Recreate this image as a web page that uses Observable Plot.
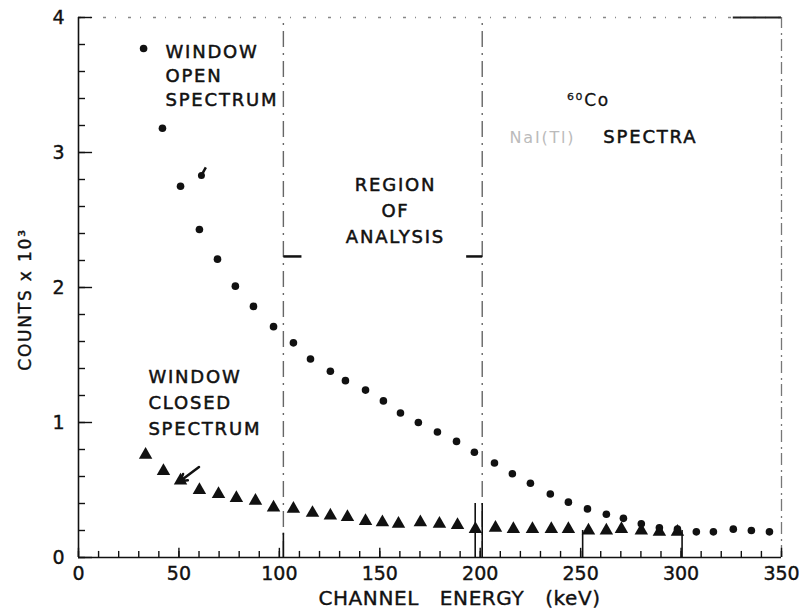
<!DOCTYPE html>
<html><head><meta charset="utf-8">
<script src="https://cdn.jsdelivr.net/npm/d3@7"></script>
<script src="https://cdn.jsdelivr.net/npm/@observablehq/plot@0.6"></script>
<style>body{margin:0;background:#fff}</style>
</head><body><div id="chart"></div>
<script>
// Window-open spectrum (circles): energy (keV), counts x 10^3
const openX = [32.4, 41.8, 50.8, 60.2, 69.2, 78.1, 87.1, 97.1, 107.0, 115.5, 125.4, 132.9, 142.9, 151.8, 160.3, 169.2, 178.7, 188.2, 197.1, 207.1, 216.0, 225.0, 234.9, 243.9, 253.4, 262.8, 271.3, 280.2, 289.2, 298.2, 307.6, 316.1, 326.0, 335.0, 344.0];
const openY = [3.77, 3.18, 2.75, 2.43, 2.21, 2.01, 1.86, 1.71, 1.59, 1.47, 1.38, 1.31, 1.24, 1.16, 1.07, 1.00, 0.93, 0.86, 0.78, 0.70, 0.62, 0.55, 0.47, 0.41, 0.36, 0.32, 0.29, 0.25, 0.22, 0.21, 0.19, 0.19, 0.21, 0.20, 0.19];
// marked point (with tail) in open spectrum
const markX = [61.2];
const markY = [2.83];
// Window-closed spectrum (triangles)
const closedX = [33.4, 42.3, 50.8, 60.2, 69.7, 78.6, 88.1, 97.1, 107.0, 116.5, 125.4, 133.9, 142.9, 151.3, 159.3, 170.2, 179.7, 188.7, 197.6, 207.6, 216.5, 226.0, 235.4, 243.9, 253.9, 262.8, 270.3, 280.2, 289.2, 298.2];
const closedY = [0.76, 0.64, 0.57, 0.50, 0.47, 0.44, 0.42, 0.37, 0.36, 0.33, 0.31, 0.30, 0.27, 0.26, 0.25, 0.26, 0.25, 0.24, 0.21, 0.22, 0.21, 0.21, 0.21, 0.21, 0.20, 0.20, 0.21, 0.20, 0.19, 0.19];
// Region of analysis boundaries (keV)
const regionX = [102, 201];
// Axis ticks
const xTickLabels = [0, 50, 100, 150, 200, 250, 300, 350];
const yTickLabels = [0, 1, 2, 3, 4];
const xMinorTicks = d3.range(0, 351, 10);
const yMinorTicks = d3.range(0, 4.001, 0.2);
// Tall tick marks on the energy axis
const longTickX = [102, 197.5, 201, 251, 300.5];
const longTickTop = [0.18, 0.4, 0.4, 0.2, 0.2];

const font = "DejaVu Sans";
const ink = "#111";
const open = openX.map((x, i) => ({x, y: openY[i]}));
const closed = closedX.map((x, i) => ({x, y: closedY[i]}));
const marked = markX.map((x, i) => ({x, y: markY[i]}));
const longTicks = longTickX.map((x, i) => ({x, y2: longTickTop[i]}));
const note = {fill: ink, stroke: ink, strokeWidth: 0.5, fontSize: 18};

const chart = Plot.plot({
  width: 801,
  height: 615,
  marginLeft: 78,
  marginRight: 20,
  marginTop: 17,
  marginBottom: 58,
  style: {fontFamily: font, color: ink, background: "#fff"},
  x: {domain: [0, 350], axis: null},
  y: {domain: [0, 4], axis: null},
  marks: [
    // frame: top dashed, right dashed
    Plot.ruleY([4], {x1: 0, x2: 350, stroke: "#888", strokeDasharray: "3,9,1,12", strokeWidth: 1.5}),
    Plot.ruleY([4], {x1: 326, x2: 350, stroke: "#222", strokeWidth: 1.8}),
    Plot.ruleX([350], {y1: 0, y2: 4, stroke: "#777", strokeDasharray: "12,4,2,5", strokeWidth: 1.3}),
    // region of analysis lines
    Plot.ruleX(regionX, {y1: 0, y2: 4, stroke: "#666", strokeDasharray: "16,6,2,6", strokeWidth: 1.4}),
    Plot.link(regionX, {x1: (d, i) => i === 0 ? d : d - 8, x2: (d, i) => i === 0 ? d + 9 : d, y1: 2.23, y2: 2.23, stroke: ink, strokeWidth: 2.5}),
    // axes lines
    Plot.ruleX([0], {y1: 0, y2: 4, stroke: ink, strokeWidth: 1.6}),
    Plot.ruleY([0], {x1: 0, x2: 350, stroke: ink, strokeWidth: 1.6}),
    // ticks pointing into the plot
    Plot.ruleY(yMinorTicks, {x1: 0, x2: 3.5, stroke: ink, strokeWidth: 1.4}),
    Plot.ruleY(yTickLabels, {x1: 0, x2: 7, stroke: ink, strokeWidth: 1.4}),
    Plot.ruleX(xMinorTicks, {y1: 0, y2: 0.045, stroke: ink, strokeWidth: 1.4}),
    Plot.ruleX(xTickLabels, {y1: 0, y2: 0.068, stroke: ink, strokeWidth: 1.4}),
    Plot.ruleX(longTicks, {x: "x", y1: 0, y2: "y2", stroke: ink, strokeWidth: 1.6}),
    // tick labels
    Plot.axisY(yTickLabels, {anchor: "left", tickSize: 0, tickPadding: 14, fontSize: 19, tickFormat: d => String(d), label: null}),
    Plot.axisX(xTickLabels, {anchor: "bottom", tickSize: 0, tickPadding: 9, fontSize: 19, tickFormat: d => String(d), label: null}),
    // data
    Plot.dot(closed, {x: "x", y: "y", symbol: "triangle", r: 5, fill: ink, stroke: "none"}),
    Plot.dot(open, {x: "x", y: "y", r: 3.8, fill: ink, stroke: "none"}),
    Plot.dot(marked, {x: "x", y: "y", r: 3.5, fill: ink}),
    Plot.link(marked, {x1: "x", y1: "y", x2: d => d.x + 2.2, y2: d => d.y + 0.06, stroke: ink, strokeWidth: 2.5}),
    // arrow to closed spectrum
    Plot.arrow([{x1: 60, y1: 0.67, x2: 50.5, y2: 0.565}], {x1: "x1", y1: "y1", x2: "x2", y2: "y2", stroke: ink, strokeWidth: 2.5, headLength: 7}),
    // annotations
    Plot.text(["WINDOW\nOPEN\nSPECTRUM"], {...note, x: 43.3, y: 3.58, textAnchor: "start", lineAnchor: "middle", lineHeight: 1.33}),
    Plot.text(["WINDOW\nCLOSED\nSPECTRUM"], {...note, x: 34.8, y: 1.163, textAnchor: "start", lineAnchor: "middle", lineHeight: 1.44}),
    Plot.text(["REGION\nOF\nANALYSIS"], {...note, x: 157.8, y: 2.585, textAnchor: "middle", lineAnchor: "middle", lineHeight: 1.47}),
    Plot.text(["⁶⁰Co"], {...note, x: 253.9, y: 3.385, textAnchor: "middle", fontSize: 17, strokeWidth: 0.3}),
    Plot.text(["SPECTRA"], {...note, x: 261.3, y: 3.11, textAnchor: "start"}),
    Plot.text(["NaI(Tl)"], {x: 231, y: 3.11, textAnchor: "middle", fontSize: 16, fill: "#bbb"}),
    // axis titles
    Plot.text(["COUNTS x 10³"], {...note, frameAnchor: "left", textAnchor: "middle", dx: -53, dy: 12, rotate: -90, fontSize: 17, strokeWidth: 0.4}),
    Plot.text(["CHANNEL\u00a0\u00a0\u00a0ENERGY\u00a0\u00a0\u00a0(keV)"], {...note, frameAnchor: "bottom", dx: 29.5, dy: 47, fontSize: 20, strokeWidth: 0.4})
  ]
});
const texts = d3.select(chart).selectAll('g[aria-label="text"] text');
texts.attr("letter-spacing", 1.8);
texts.filter(function () { return this.textContent.startsWith("CHANNEL"); }).attr("letter-spacing", 0.6);
d3.select(chart).selectAll('g[aria-label$="tick label"] text').attr("stroke", ink).attr("stroke-width", 0.4);
document.getElementById("chart").appendChild(chart);
</script>
</body></html>
